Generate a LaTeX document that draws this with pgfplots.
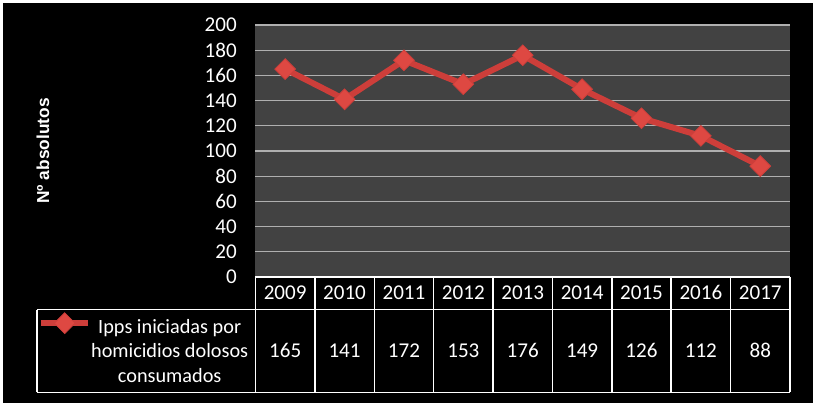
\documentclass[border=0pt]{standalone}
\usepackage{fontspec}
\setmainfont{Carlito}
\newfontfamily\labelfont{Liberation Sans}
\usepackage{pgfplots}
\usepackage{pgfplotstable}
\pgfplotsset{compat=1.18}

\definecolor{linered}{RGB}{205,62,58}
\definecolor{markred}{RGB}{222,72,66}
\definecolor{plotgray}{RGB}{66,66,66}
\definecolor{gridgray}{RGB}{175,175,175}

% homicidios dolosos consumados, Nº absolutos
\pgfplotstableread{
idx year n
0 2009 165
1 2010 141
2 2011 172
3 2012 153
4 2013 176
5 2014 149
6 2015 126
7 2016 112
8 2017 88
}\data

\newcommand{\legline}[1]{\makebox[114pt][c]{#1}}

\begin{document}
\begin{tikzpicture}
\fill[white] (0,0) rectangle (611.25pt,304.5pt);
\fill[black] (2.25pt,2.25pt) rectangle (609.75pt,302.25pt);
\begin{axis}[
    at={(191.6pt,96.75pt)}, anchor=south west,
    scale only axis,
    width=400.9pt,
    height=189pt,
    xmin=-0.5, xmax=8.5,
    ymin=0, ymax=200,
    ytick distance=20,
    xtick={0,...,8},
    clip=false,
    axis line style={draw=none},
    major tick length=0pt,
    ymajorgrids,
    grid style={line width=1pt, gridgray},
    axis background/.style={fill=plotgray},
    font=\fontsize{15.8}{19}\selectfont,
    tick label style={white},
    /pgf/number format/assume math mode=true,
    yticklabel style={xshift=-10.5pt},
    xticklabel={\pgfplotstablegetelem{\ticknum}{year}\of\data\pgfplotsretval},
    xticklabel style={anchor=base, yshift=-17.25pt},
    extra x ticks={0,...,8},
    extra x tick style={
        xticklabel={\pgfplotstablegetelem{\ticknum}{n}\of\data\pgfplotsretval},
        xticklabel style={yshift=-43.1pt}},
    ylabel={Nº absolutos},
    every axis y label/.style={at={(axis description cs:-0.3975,0.5)},
        rotate=90, anchor=center, white,
        font=\labelfont\bfseries\fontsize{13}{15}\selectfont},
    legend style={at={(axis description cs:-0.4067,-0.141)}, anchor=north west,
        draw=none, fill=none, inner sep=0pt, text=white,
        font=\fontsize{15.2}{18.5}\selectfont,
        cells={anchor=base west}},
    legend image code/.code={
        \draw[#1, mark repeat=2, mark phase=2]
        plot coordinates {(0pt,7.5pt) (17.5pt,7.5pt) (35pt,7.5pt)};},
]
\addplot[linered, line width=4.5pt, mark=square*, mark size=5.5pt,
    mark options={rotate=45, fill=markred, draw=linered, line width=0.6pt}]
    table[x=idx, y=n] {\data};
\addlegendentry{\parbox[t]{114pt}{\legline{Ipps iniciadas por}\\
    \legline{homicidios dolosos}\\\legline{consumados}}}

% data table frame
\draw[white, line width=1.1pt] (axis cs:-0.5,0) -- (axis cs:8.5,0);
\pgfplotsinvokeforeach{-0.5,0.5,...,8.5}{
    \draw[white, line width=1.1pt] (axis cs:#1,0) -- ([yshift=-86.6pt]axis cs:#1,0);}
\draw[white, line width=1.1pt] ([xshift=-163.9pt, yshift=-24.4pt]axis cs:-0.5,0)
    -- ([yshift=-24.4pt]axis cs:8.5,0);
\draw[white, line width=1.1pt] ([xshift=-163.9pt, yshift=-86.6pt]axis cs:-0.5,0)
    -- ([yshift=-86.6pt]axis cs:8.5,0);
\draw[white, line width=1.1pt] ([xshift=-163.9pt, yshift=-24.4pt]axis cs:-0.5,0)
    -- ([xshift=-163.9pt, yshift=-86.6pt]axis cs:-0.5,0);
\end{axis}
\pgfresetboundingbox
\path[use as bounding box] (0,0) rectangle (611.25pt,304.5pt);
\end{tikzpicture}
\end{document}
